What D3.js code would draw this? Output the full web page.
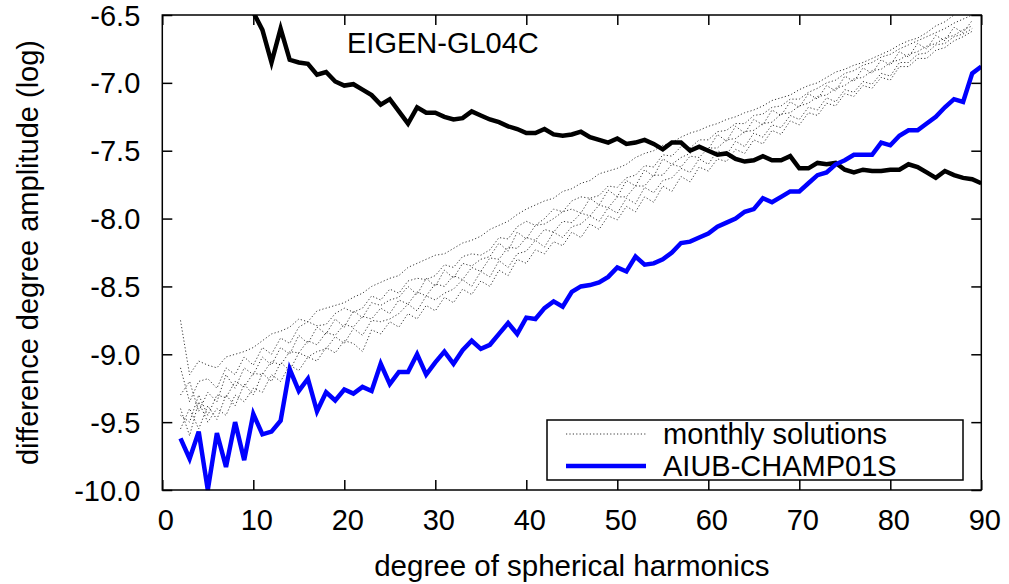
<!DOCTYPE html>
<html>
<head>
<meta charset="utf-8">
<script src="https://cdn.jsdelivr.net/npm/d3@7"></script>
<style>
  body { margin: 0; background: #fff; }
  text { font-family: "Liberation Sans", Arial, Helvetica, sans-serif; fill: #000; }
</style>
</head>
<body>
<script>
// degrees of spherical harmonics
var xTicks = [0, 10, 20, 30, 40, 50, 60, 70, 80, 90];
var yTicks = [-6.5, -7.0, -7.5, -8.0, -8.5, -9.0, -9.5, -10.0];

// AIUB-CHAMP01S, degree 2..90
var champDeg = d3.range(2, 91);
var champ = [-9.62, -9.77, -9.57, -10.0, -9.58, -9.83, -9.50, -9.78, -9.44, -9.59,
  -9.57, -9.49, -9.11, -9.27, -9.18, -9.42, -9.28, -9.34, -9.26, -9.29,
  -9.24, -9.27, -9.07, -9.22, -9.13, -9.13, -9.0, -9.15, -9.06, -8.98,
  -9.07, -8.97, -8.90, -8.96, -8.93, -8.85, -8.77, -8.85, -8.73, -8.74,
  -8.66, -8.61, -8.65, -8.54, -8.50, -8.49, -8.47, -8.43, -8.36, -8.39,
  -8.28, -8.34, -8.33, -8.30, -8.25, -8.18, -8.17, -8.14, -8.11, -8.06,
  -8.03, -8.0, -7.95, -7.93, -7.85, -7.88, -7.84, -7.80, -7.80, -7.74,
  -7.68, -7.66, -7.60, -7.57, -7.53, -7.53, -7.53, -7.44, -7.46, -7.39,
  -7.35, -7.35, -7.30, -7.25, -7.18, -7.12, -7.14, -6.93, -6.88];

// EIGEN-GL04C, degree 9..90 (leaves the top of the plot below degree 10)
var eigenDeg = d3.range(9, 91);
var eigen = [-6.3, -6.48, -6.61, -6.85, -6.60, -6.83, -6.85, -6.86, -6.94, -6.92,
  -6.99, -7.02, -7.01, -7.05, -7.09, -7.16, -7.12, -7.21, -7.30, -7.18,
  -7.22, -7.22, -7.25, -7.27, -7.26, -7.21, -7.24, -7.27, -7.29, -7.32,
  -7.34, -7.37, -7.37, -7.34, -7.38, -7.39, -7.38, -7.36, -7.40, -7.42,
  -7.44, -7.41, -7.45, -7.44, -7.42, -7.45, -7.49, -7.44, -7.44, -7.50,
  -7.47, -7.50, -7.53, -7.52, -7.56, -7.58, -7.57, -7.54, -7.57, -7.57,
  -7.54, -7.63, -7.63, -7.59, -7.60, -7.59, -7.64, -7.66, -7.64, -7.65,
  -7.65, -7.64, -7.64, -7.60, -7.62, -7.66, -7.70, -7.65, -7.68, -7.70,
  -7.71, -7.74];

// monthly solutions, degree 2..89
var monthDeg = d3.range(2, 90);
var month1 = [-8.75, -9.15, -9.05, -9.08, -9.1, -9.02, -9.0, -8.98, -8.95, -8.9,
  -8.85, -8.83, -8.8, -8.74, -8.76, -8.68, -8.66, -8.64, -8.62, -8.58,
  -8.55, -8.5, -8.47, -8.44, -8.42, -8.36, -8.33, -8.3, -8.27, -8.26,
  -8.22, -8.18, -8.16, -8.13, -8.08, -8.05, -8.02, -7.97, -7.93, -7.9,
  -7.87, -7.85, -7.8, -7.78, -7.74, -7.72, -7.67, -7.65, -7.63, -7.6,
  -7.55, -7.52, -7.5, -7.46, -7.44, -7.4, -7.37, -7.35, -7.32, -7.3,
  -7.27, -7.25, -7.22, -7.2, -7.17, -7.13, -7.11, -7.09, -7.05, -7.02,
  -7.0, -6.96, -6.92, -6.9, -6.87, -6.85, -6.82, -6.79, -6.76, -6.72,
  -6.69, -6.67, -6.63, -6.58, -6.55, -6.5, -6.46, -6.42];
var month2 = [-9.1, -9.35, -9.2, -9.18, -9.25, -9.1, -9.15, -9.02, -9.08, -8.95,
  -9.0, -8.88, -8.92, -8.8, -8.76, -8.79, -8.78, -8.7, -8.66, -8.69,
  -8.66, -8.57, -8.6, -8.52, -8.55, -8.46, -8.44, -8.45, -8.42, -8.34,
  -8.36, -8.28, -8.26, -8.27, -8.23, -8.14, -8.15, -8.06, -8.02, -8.05,
  -8.0, -7.93, -7.95, -7.87, -7.84, -7.85, -7.83, -7.76, -7.77, -7.7,
  -7.68, -7.61, -7.62, -7.53, -7.54, -7.47, -7.48, -7.42, -7.42, -7.36,
  -7.35, -7.3, -7.3, -7.24, -7.23, -7.18, -7.17, -7.12, -7.12, -7.07,
  -7.04, -7.0, -6.98, -6.93, -6.91, -6.87, -6.85, -6.81, -6.79, -6.75,
  -6.72, -6.69, -6.66, -6.63, -6.6, -6.56, -6.53, -6.5];
var month3 = [-9.3, -9.2, -9.42, -9.28, -9.35, -9.15, -9.25, -9.1, -9.15, -9.02,
  -9.08, -8.95, -9.0, -8.86, -8.92, -8.8, -8.85, -8.74, -8.8, -8.68,
  -8.73, -8.62, -8.64, -8.6, -8.58, -8.5, -8.56, -8.44, -8.5, -8.38,
  -8.44, -8.33, -8.35, -8.3, -8.28, -8.18, -8.24, -8.1, -8.15, -8.05,
  -8.04, -8.0, -7.95, -7.93, -7.96, -7.85, -7.9, -7.79, -7.84, -7.72,
  -7.76, -7.64, -7.69, -7.56, -7.6, -7.55, -7.52, -7.46, -7.49, -7.38,
  -7.43, -7.32, -7.37, -7.27, -7.31, -7.2, -7.24, -7.14, -7.18, -7.08,
  -7.12, -7.02, -7.06, -6.95, -6.99, -6.89, -6.93, -6.83, -6.87, -6.77,
  -6.81, -6.71, -6.75, -6.65, -6.69, -6.59, -6.63, -6.54];
var month4 = [-9.45, -9.5, -9.3, -9.45, -9.3, -9.32, -9.2, -9.24, -9.14, -9.15,
  -9.05, -9.08, -8.98, -8.99, -8.9, -8.93, -8.84, -8.86, -8.78, -8.8,
  -8.72, -8.74, -8.66, -8.7, -8.6, -8.63, -8.54, -8.57, -8.48, -8.5,
  -8.42, -8.45, -8.36, -8.39, -8.29, -8.3, -8.21, -8.22, -8.14, -8.16,
  -8.08, -8.1, -8.02, -8.03, -7.96, -7.98, -7.9, -7.92, -7.84, -7.84,
  -7.76, -7.76, -7.68, -7.68, -7.6, -7.62, -7.54, -7.55, -7.48, -7.48,
  -7.42, -7.41, -7.36, -7.35, -7.3, -7.29, -7.23, -7.22, -7.17, -7.15,
  -7.1, -7.09, -7.04, -7.02, -6.97, -6.96, -6.91, -6.9, -6.85, -6.83,
  -6.79, -6.77, -6.73, -6.71, -6.67, -6.65, -6.61, -6.58];
var month5 = [-9.55, -9.4, -9.55, -9.38, -9.48, -9.3, -9.38, -9.22, -9.3, -9.14,
  -9.2, -9.06, -9.12, -8.99, -9.02, -8.98, -8.96, -8.87, -8.92, -8.81,
  -8.86, -8.75, -8.76, -8.74, -8.7, -8.63, -8.68, -8.57, -8.6, -8.55,
  -8.52, -8.45, -8.5, -8.39, -8.43, -8.31, -8.36, -8.26, -8.24, -8.16,
  -8.21, -8.1, -8.14, -8.06, -8.04, -7.98, -8.02, -7.92, -7.96, -7.85,
  -7.89, -7.77, -7.81, -7.72, -7.7, -7.63, -7.66, -7.56, -7.6, -7.5,
  -7.53, -7.43, -7.47, -7.37, -7.4, -7.31, -7.33, -7.24, -7.27, -7.18,
  -7.2, -7.11, -7.14, -7.05, -7.07, -6.99, -7.01, -6.93, -6.95, -6.85,
  -6.85, -6.79, -6.78, -6.72, -6.71, -6.66, -6.64, -6.6];
var month6 = [-9.4, -9.6, -9.35, -9.5, -9.4, -9.45, -9.3, -9.35, -9.25, -9.28,
  -9.15, -9.2, -9.08, -9.12, -9.02, -9.05, -8.95, -8.99, -8.9, -8.92,
  -8.98, -8.82, -8.85, -8.76, -8.8, -8.7, -8.74, -8.64, -8.68, -8.58,
  -8.62, -8.52, -8.56, -8.46, -8.5, -8.38, -8.42, -8.3, -8.33, -8.23,
  -8.26, -8.17, -8.2, -8.1, -8.14, -8.04, -8.08, -7.98, -8.01, -7.91,
  -7.95, -7.84, -7.88, -7.76, -7.8, -7.69, -7.73, -7.62, -7.65, -7.56,
  -7.58, -7.49, -7.52, -7.42, -7.45, -7.35, -7.38, -7.28, -7.31, -7.22,
  -7.24, -7.15, -7.17, -7.08, -7.1, -7.02, -7.04, -6.96, -6.98, -6.88,
  -6.88, -6.82, -6.82, -6.76, -6.74, -6.69, -6.66, -6.62];
var monthly = [month1, month2, month3, month4, month5, month6];

var W = 1009, H = 584;
var pLeft = 162.3, pTop = 15, pRight = 981.3, pBottom = 490;
var font = 29;

var svg = d3.select('body').append('svg').attr('width', W).attr('height', H);

var x = d3.scaleLinear().domain([0, 90]).range([pLeft, pRight]);
var y = d3.scaleLinear().domain([-6.5, -10.0]).range([pTop, pBottom]);

function pairs(deg, vals) {
  return deg.map(function (d, i) { return [d, vals[i]]; });
}
var line = d3.line().x(function (d) { return x(d[0]); }).y(function (d) { return y(d[1]); });

svg.append('clipPath').attr('id', 'plot')
  .append('rect').attr('x', pLeft).attr('y', pTop)
  .attr('width', pRight - pLeft).attr('height', H - pTop);

var g = svg.append('g').attr('clip-path', 'url(#plot)');

// monthly solutions
g.selectAll('path.month')
  .data(monthly)
  .enter()
  .append('path')
  .attr('class', 'month')
  .attr('d', function (vals) { return line(pairs(monthDeg, vals)); })
  .attr('fill', 'none')
  .attr('stroke', '#222')
  .attr('stroke-width', 0.9)
  .attr('stroke-dasharray', '1.2,2.2');

g.append('path')
  .attr('d', line(pairs(eigenDeg, eigen)))
  .attr('fill', 'none')
  .attr('stroke', '#000')
  .attr('stroke-width', 4.5)
  .attr('stroke-linejoin', 'miter');

g.append('path')
  .attr('d', line(pairs(champDeg, champ)))
  .attr('fill', 'none')
  .attr('stroke', '#0000ff')
  .attr('stroke-width', 4.5)
  .attr('stroke-linejoin', 'miter');

// axes, ticks inward on all four sides
var xb = svg.append('g').attr('transform', 'translate(0,' + pBottom + ')')
  .call(d3.axisBottom(x).tickValues(xTicks).tickSize(-10).tickPadding(0)
    .tickFormat(function (d) { return String(d); }));
xb.selectAll('text').attr('y', 40).attr('dy', 0).attr('dx', 3)
  .style('font-size', font + 'px').style('font-family', null);

var xt = svg.append('g').attr('transform', 'translate(0,' + pTop + ')')
  .call(d3.axisTop(x).tickValues(xTicks).tickSize(-10).tickFormat(''));

var yl = svg.append('g').attr('transform', 'translate(' + pLeft + ',0)')
  .call(d3.axisLeft(y).tickValues(yTicks).tickSize(-10).tickPadding(0)
    .tickFormat(function (d) { return d.toFixed(1); }));
yl.selectAll('text').attr('x', -22).attr('dy', 10)
  .style('font-size', font + 'px').style('font-family', null);

var yr = svg.append('g').attr('transform', 'translate(' + pRight + ',0)')
  .call(d3.axisRight(y).tickValues(yTicks).tickSize(-10).tickFormat(''));

[xb, xt, yl, yr].forEach(function (a) {
  a.select('.domain').remove();
  a.selectAll('line').attr('stroke', '#000').attr('stroke-width', 1.5);
});

svg.append('rect')
  .attr('x', pLeft).attr('y', pTop)
  .attr('width', pRight - pLeft).attr('height', pBottom - pTop)
  .attr('fill', 'none').attr('stroke', '#000').attr('stroke-width', 1.5);

// labels
svg.append('text').attr('x', 347).attr('y', 53)
  .style('font-size', font + 'px').text('EIGEN-GL04C');

svg.append('text').attr('x', (pLeft + pRight) / 2).attr('y', 576)
  .attr('text-anchor', 'middle').style('font-size', '29.5px')
  .text('degree of spherical harmonics');

svg.append('text')
  .attr('transform', 'translate(38,' + ((pTop + pBottom) / 2) + ') rotate(-90)')
  .attr('text-anchor', 'middle').style('font-size', font + 'px')
  .text('difference degree amplitude (log)');

// legend
var lg = svg.append('g');
lg.append('rect').attr('x', 547).attr('y', 420).attr('width', 416).attr('height', 60)
  .attr('fill', '#fff').attr('stroke', '#000').attr('stroke-width', 1.5);
lg.append('line').attr('x1', 566).attr('x2', 646).attr('y1', 434).attr('y2', 434)
  .attr('stroke', '#222').attr('stroke-width', 0.9).attr('stroke-dasharray', '1.2,2.2');
lg.append('line').attr('x1', 566).attr('x2', 646).attr('y1', 466).attr('y2', 466)
  .attr('stroke', '#0000ff').attr('stroke-width', 4.5);
lg.append('text').attr('x', 663).attr('y', 444).style('font-size', font + 'px').text('monthly solutions');
lg.append('text').attr('x', 663).attr('y', 476).style('font-size', font + 'px').text('AIUB-CHAMP01S');
</script>
</body>
</html>
